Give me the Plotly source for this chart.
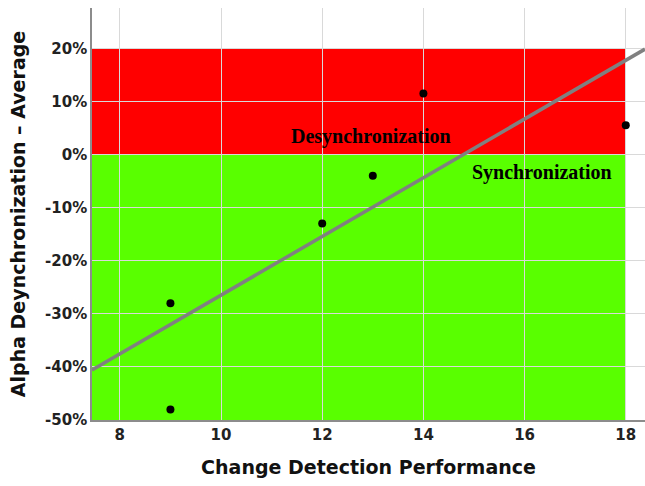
import numpy as np
import plotly.graph_objects as go

# Scatter data: change detection score vs. alpha desynchronization (%)
performance = [9, 9, 12, 13, 14, 18]
alpha_desync = [-28, -48, -13, -4, 11.5, 5.5]

x_ticks = [8, 10, 12, 14, 16, 18]
y_ticks = [-50, -40, -30, -20, -10, 0, 10, 20]
y_ticktext = [f"{v}%" for v in y_ticks]

x_range = [7.45, 18.38]
y_range = [-50, 27.6]

# Least-squares fit line
slope, intercept = np.polyfit(performance, alpha_desync, 1)
fit_x = np.array(x_range)
fit_y = slope * fit_x + intercept

fig = go.Figure()

fig.add_trace(go.Scatter(
    x=fit_x, y=fit_y, mode="lines",
    line=dict(color="#808080", width=3.5),
    hoverinfo="skip", showlegend=False,
))
fig.add_trace(go.Scatter(
    x=performance, y=alpha_desync, mode="markers",
    marker=dict(color="black", size=8),
    showlegend=False,
))

# Background bands: desynchronization (red) above 0, synchronization (green) below
fig.add_shape(type="rect", xref="x", yref="y", x0=x_range[0], x1=18, y0=0, y1=20,
              fillcolor="#ff0000", line_width=0, layer="below")
fig.add_shape(type="rect", xref="x", yref="y", x0=x_range[0], x1=18, y0=-50, y1=0,
              fillcolor="#59ff00", line_width=0, layer="below")

fig.add_annotation(x=12.96, y=3.4, text="<b>Desynchronization</b>", showarrow=False,
                   font=dict(family="Liberation Serif", size=20, color="black"))
fig.add_annotation(x=16.34, y=-3.4, text="<b>Synchronization</b>", showarrow=False,
                   font=dict(family="Liberation Serif", size=20, color="black"))

tick_font = dict(size=15, family="DejaVu Sans", weight="bold", color="#222222")
title_font = dict(size=19, family="DejaVu Sans", weight="bold", color="#111111")

fig.update_layout(
    width=645, height=486,
    margin=dict(l=92, r=0, t=8, b=66),
    plot_bgcolor="white", paper_bgcolor="white",
    font=dict(family="DejaVu Sans", color="#222222"),
)
fig.update_xaxes(
    range=x_range, tickvals=x_ticks, ticktext=[str(v) for v in x_ticks],
    showgrid=True, gridcolor="#d9d9d9", gridwidth=1, zeroline=False,
    showline=True, linecolor="#8c8c8c", linewidth=1.5,
    ticks="", tickfont=tick_font,
    title=dict(text="Change Detection Performance", font=title_font, standoff=18),
)
fig.update_yaxes(
    range=y_range, tickvals=y_ticks, ticktext=y_ticktext,
    showgrid=True, gridcolor="#d9d9d9", gridwidth=1, zeroline=False,
    showline=True, linecolor="#8c8c8c", linewidth=1.5,
    ticks="", tickfont=tick_font,
    title=dict(text="Alpha Deynchronization \u2013 Average", font=title_font, standoff=14),
)

fig.write_html("out.html")
